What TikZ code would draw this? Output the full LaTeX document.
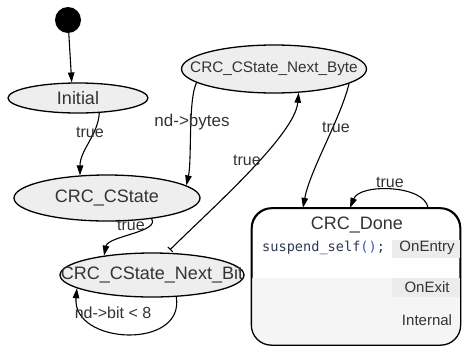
\documentclass[tikz,border=0pt]{standalone}
\usepackage{fontspec}
\setmainfont{Liberation Sans}
\setmonofont{DejaVu Sans Mono}
\usetikzlibrary{arrows.meta,shapes.geometric}
\definecolor{txt}{HTML}{333333}
\definecolor{statefill}{HTML}{EEEEEE}
\definecolor{codetxt}{HTML}{2F3A52}
\definecolor{codepar}{HTML}{3A5BB5}
\definecolor{bandA}{HTML}{F5F5F5}
\definecolor{bandB}{HTML}{ECECEC}
\newcommand{\zw}[1]{\makebox[0pt]{#1}}
\tikzset{
  stateell/.style={ellipse, draw, line width=1.3pt, fill=statefill, inner sep=0pt, text=txt, font=\fontsize{18}{18}\selectfont},
  trans/.style={line width=1.1pt, -{Triangle[length=10pt,width=6.5pt]}},
  elabel/.style={text=txt, font=\fontsize{16}{16}\selectfont, inner sep=1pt},
  complabel/.style={text=txt, font=\fontsize{15}{15}\selectfont, inner sep=0pt},
}
\begin{document}
\begin{tikzpicture}[x=1pt,y=-1pt]
\useasboundingbox (0,0) rectangle (462,346);
% states
\node[circle, fill=black, minimum size=26pt, inner sep=0pt] (dot) at (68,20) {};
\node[stateell, minimum width=140pt, minimum height=30pt] (init) at (78,98) {\zw{Initial}};
\node[stateell, minimum width=186pt, minimum height=46pt] (cstate) at (107,198) {\zw{CRC\_CState}};
\node[stateell, minimum width=185pt, minimum height=48pt, font=\fontsize{15.3}{15.3}\selectfont] (byte) at (274,69) {\zw{CRC\_CState\_Next\_Byte}};
\node[stateell, minimum width=184pt, minimum height=44pt] (bit) at (152,275) {\zw{CRC\_CState\_Next\_Bit}};
% CRC_Done
\node[rectangle, draw, line width=1.3pt, fill=white, rounded corners=20pt, minimum width=208pt, minimum height=136pt, inner sep=0pt] (done) at (356,276.5) {};
\begin{scope}
  \clip[rounded corners=20pt] (done.north west) rectangle (done.south east);
  \fill[bandB] (392,240) rectangle (462,258);
  \fill[bandA] (250,278) rectangle (462,312);
  \fill[bandB] (392,278) rectangle (462,297);
  \fill[bandA] (250,312) rectangle (462,346);
\end{scope}
\draw[line width=1.3pt, rounded corners=20pt] (done.north west) rectangle (done.south east);
\node[text=txt, font=\fontsize{18}{18}\selectfont] (donetitle) at (357,225) {CRC\_Done};
\node[anchor=west, inner sep=0pt, font=\ttfamily\fontsize{13.6}{13.6}\selectfont] (entrycode) at (262,248) {\textcolor{codetxt}{suspend\_self}\textcolor{codepar}{()}\textcolor{codetxt}{;}};
\node[complabel] (onentry) at (427,248) {OnEntry};
\node[complabel] (onexit) at (427,287) {OnExit};
\node[complabel] (internal) at (427,320) {Internal};
% transitions
\draw[trans] (dot) -- (init.112);
\draw[trans] (init.-35.8) .. controls (98,135) and (80,150) .. (cstate.140.8);
\node[elabel] (l1) at (90,132) {true};
\draw[trans] (byte.190) .. controls (188,100) and (192,160) .. (cstate.9.9);
\node[elabel, font=\fontsize{17}{17}\selectfont] (l2) at (192,122) {nd->bytes};
\draw[trans] (cstate.-25.4) .. controls (160,232) and (108,236) .. (bit.158.1);
\node[elabel] (l3) at (131,225) {true};
\draw[line width=1.1pt, {Bar[width=7pt,sep=4pt]}-{Triangle[length=10pt,width=6.5pt]}] (bit.56.3) .. controls (210,210) and (295,135) .. (byte.-44);
\node[elabel] (l4) at (247,160) {true};
\draw[trans] (byte.-11.3) .. controls (340,120) and (310,170) .. ([xshift=-53pt]done.north);
\node[elabel] (l5) at (336,127) {true};
\draw[trans] ([xshift=72pt]done.north) .. controls (425,185) and (360,183) .. ([xshift=-6pt]done.north);
\node[elabel] (l6) at (390,182) {true};
\draw[trans] (bit.-42.8) .. controls (185,350) and (72,345) .. (bit.190);
\node[elabel] (l7) at (113,313) {nd->bit < 8};
\end{tikzpicture}
\end{document}
